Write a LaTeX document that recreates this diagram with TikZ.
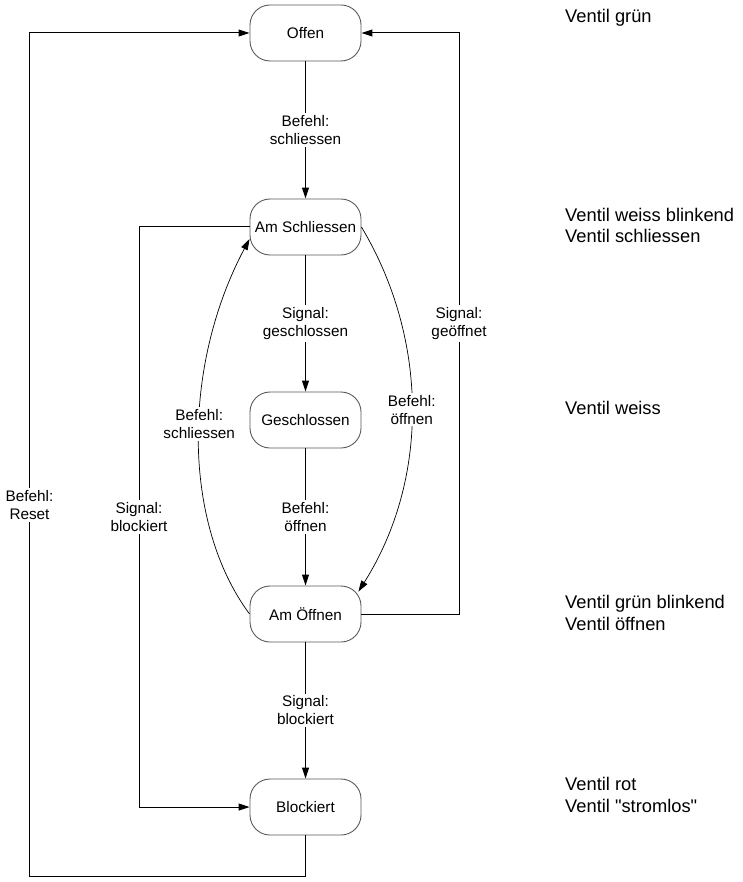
\documentclass[tikz,border=0pt]{standalone}
\usepackage{fontspec}
\setmainfont{Liberation Sans}
\usetikzlibrary{arrows.meta}
\definecolor{rahmen}{gray}{0.35}

\begin{document}
\begin{tikzpicture}[x=1pt,y=-1pt,
    zustand/.style={draw=rahmen, line width=0.9pt, rounded corners=20pt,
      minimum width=111pt, minimum height=56pt, inner sep=0pt,
      font=\fontsize{15.3}{18}\selectfont},
    pfeil/.style={line width=1pt, -{Triangle[length=11pt,width=7pt]}},
    bogen/.style={line width=0.7pt, -{Triangle[length=11pt,width=7pt]}},
    beschriftung/.style={fill=white, align=center, inner sep=2pt,
      font=\fontsize{15.3}{18}\selectfont},
    anzeige/.style={anchor=base west, inner sep=0pt,
      font=\fontsize{18.3}{22}\selectfont}]
  \useasboundingbox (0,0) rectangle (743,882);

      % ZUSTAENDE
      \node[zustand] (offen)        at (305.5,33)  {Offen};
      \node[zustand] (amschliessen) at (305.5,227) {Am Schliessen};
      \node[zustand] (geschlossen)  at (305.5,420) {Geschlossen};
      \node[zustand] (amoeffnen)    at (305.5,614) {Am Öffnen};
      \node[zustand] (blockiert)    at (305.5,807) {Blockiert};

      % ECKPUNKTE
      \coordinate (resetU) at (29.5,876);
      \coordinate (resetO) at (29.5,33);
      \coordinate (offenU) at (459,614);
      \coordinate (offenO) at (459,33);
      \coordinate (blockO) at (139,227);
      \coordinate (blockU) at (139,807);

      % HAUPTWEG
      \draw[pfeil] (offen) -- node[beschriftung] {Befehl:\\schliessen} (amschliessen);
      \draw[pfeil] (amschliessen) -- node[beschriftung] {Signal:\\geschlossen} (geschlossen);
      \draw[pfeil] (geschlossen) -- node[beschriftung] {Befehl:\\öffnen} (amoeffnen);
      \draw[pfeil] (amoeffnen) -- node[beschriftung] {Signal:\\blockiert} (blockiert);

      % RUECKWEGE
      \draw[pfeil] (blockiert.south) -- (blockiert.south |- resetU) -- (resetU)
        -- node[beschriftung, pos=0.44] {Befehl:\\Reset} (resetO) -- (offen.west);
      \draw[pfeil] (amoeffnen.east) -- (offenU)
        -- node[beschriftung] {Signal:\\geöffnet} (offenO) -- (offen.east);
      \draw[pfeil] (amschliessen.west) -- (blockO)
        -- node[beschriftung] {Signal:\\blockiert} (blockU) -- (blockiert.west);

      % BOEGEN
      \draw[bogen] (amoeffnen.west) .. controls (182,523) and (182,366)
        .. node[beschriftung, pos=0.54] {Befehl:\\schliessen} ([yshift=-12pt]amschliessen.west);
      \draw[bogen] (amschliessen.east) .. controls (429,340) and (429,480)
        .. node[beschriftung] {Befehl:\\öffnen} ([xshift=-3pt,yshift=-6pt]amoeffnen.north east);

      % ANZEIGE
      \node[anzeige] (anz1)  at (565,23)  {Ventil grün};
      \node[anzeige] (anz2a) at (565,222) {Ventil weiss blinkend};
      \node[anzeige] (anz2b) at (565,243) {Ventil schliessen};
      \node[anzeige] (anz3)  at (565,414) {Ventil weiss};
      \node[anzeige] (anz4a) at (565,608) {Ventil grün blinkend};
      \node[anzeige] (anz4b) at (565,630) {Ventil öffnen};
      \node[anzeige] (anz5a) at (565,790) {Ventil rot};
      \node[anzeige] (anz5b) at (565,812) {Ventil \textquotedbl stromlos\textquotedbl};
\end{tikzpicture}
\end{document}
